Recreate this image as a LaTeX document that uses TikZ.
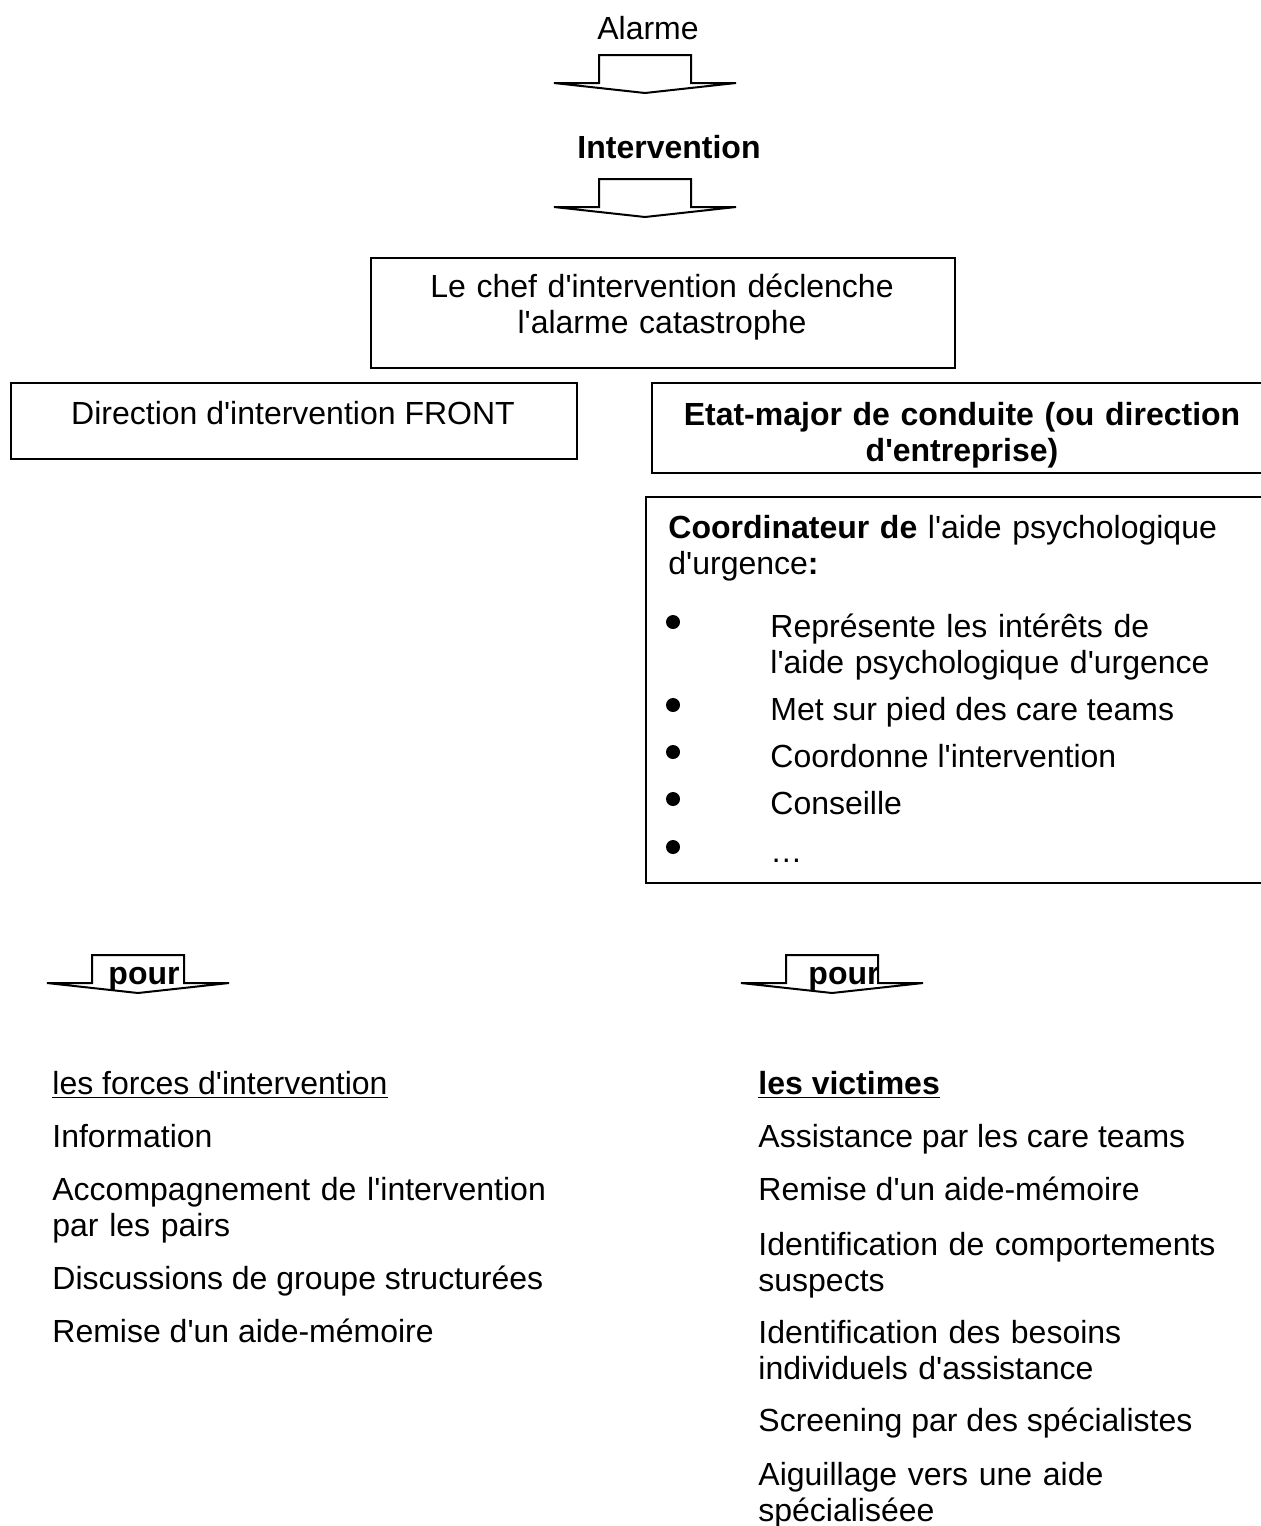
\documentclass[tikz,border=0pt]{standalone}
\usepackage{fontspec}
\setmainfont{Liberation Sans}[Ligatures=TeXOff]
\usetikzlibrary{positioning}

\tikzset{
  txt/.style={font=\fontsize{16}{18}\selectfont, inner sep=0pt},
  boldtxt/.style={txt, font=\fontsize{16}{18}\selectfont\bfseries},
  framebox/.style={draw, line width=0.8pt, anchor=north west, inner sep=0pt},
  dot/.style={circle, fill, inner sep=0pt, minimum size=7pt},
  pics/flatarrow/.style={code={
    \draw[line width=1pt] (-91,0) -- (-46,0) -- (-46,-28) -- (46,-28) -- (46,0)
      -- (91,0) -- (0,10) -- cycle;
  }}
}

\begin{document}
\begin{tikzpicture}[x=0.5pt, y=-0.5pt]
  \useasboundingbox (0,0) rectangle (1260,1526);

  % Top of the flow
  \node[txt, anchor=base] (alarme) at (648,39) {Alarme};
  \pic at (645,83) {flatarrow};
  \node[boldtxt, anchor=base] (interv) at (669,158) {Intervention};
  \pic at (645,207) {flatarrow};

  % Chef
  \node[framebox, minimum width=292pt, minimum height=55pt] (chefbox) at (370,257) {};
  \node[txt, anchor=base, text width=280pt, align=center] (cheftext) at (662,297) {Le chef d'intervention déclenche\\ l'alarme catastrophe};

  % Two directions
  \node[framebox, minimum width=283pt, minimum height=38pt] (frontbox) at (10,382) {};
  \node[txt, anchor=base] (fronttext) at (293,424) {Direction d'intervention FRONT};
  \node[framebox, minimum width=307pt, minimum height=45pt] (etatbox) at (651,382) {};
  \node[boldtxt, anchor=base, text width=300pt, align=center] (etattext) at (962,425) {Etat-major de conduite (ou direction\\ d'entreprise)};

  % Coordinateur
  \node[framebox, minimum width=310pt, minimum height=193pt] (coordbox) at (645,496) {};
  \node[txt, anchor=base west, text width=290pt, align=left] (coordtext) at (668,538) {\textbf{Coordinateur de} l'aide psychologique\\ d'urgence\textbf{:}};
  \foreach \y [count=\i] in {622,705,752,799,847}
    \node[dot] (bullet\i) at (673,\y) {};
  \node[txt, anchor=base west, text width=250pt, align=left] (task1) at (770,637) {Représente les intérêts de\\ l'aide psychologique d'urgence};
  \node[txt, anchor=base west] (task2) at (770,720) {Met sur pied des care teams};
  \node[txt, anchor=base west] (task3) at (770,767) {Coordonne l'intervention};
  \node[txt, anchor=base west] (task4) at (770,814) {Conseille};
  \node[txt, anchor=base west] (task5) at (770,862) {\ldots};

  % pour
  \pic at (138,983) {flatarrow};
  \node[boldtxt, anchor=base] (pourleft) at (144,984) {pour};
  \pic at (832,983) {flatarrow};
  \node[boldtxt, anchor=base] (pourright) at (844,984) {pour};

  % Forces d'intervention
  \node[txt, anchor=base west] (forces) at (52,1094) {\underline{les forces d'intervention}};
  \node[txt, anchor=base west] (f1) at (52,1147) {Information};
  \node[txt, anchor=base west, text width=270pt, align=left] (f2) at (52,1200) {Accompagnement de l'intervention\\ par les pairs};
  \node[txt, anchor=base west] (f3) at (52,1289) {Discussions de groupe structurées};
  \node[txt, anchor=base west] (f4) at (52,1342) {Remise d'un aide-mémoire};

  % Victimes
  \node[boldtxt, anchor=base west] (victimes) at (758,1094) {\underline{les victimes}};
  \node[txt, anchor=base west] (v1) at (758,1147) {Assistance par les care teams};
  \node[txt, anchor=base west] (v2) at (758,1200) {Remise d'un aide-mémoire};
  \node[txt, anchor=base west, text width=250pt, align=left] (v3) at (758,1255) {Identification de comportements\\ suspects};
  \node[txt, anchor=base west, text width=250pt, align=left] (v4) at (758,1343) {Identification des besoins\\ individuels d'assistance};
  \node[txt, anchor=base west] (v5) at (758,1431) {Screening par des spécialistes};
  \node[txt, anchor=base west, text width=250pt, align=left] (v6) at (758,1485) {Aiguillage vers une aide\\ spécialiséee};
\end{tikzpicture}
\end{document}
